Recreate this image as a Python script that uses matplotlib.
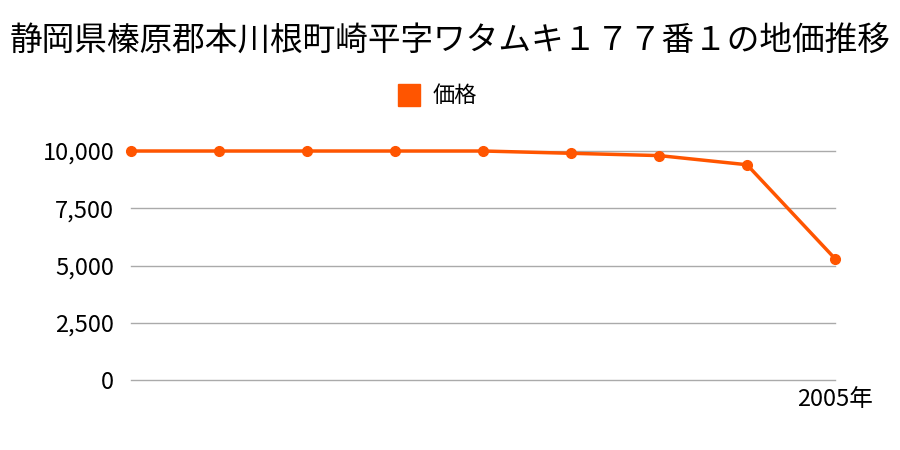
import matplotlib
matplotlib.use("Agg")
import matplotlib.pyplot as plt
from matplotlib.ticker import FuncFormatter

plt.rcParams["font.family"] = ["Noto Sans CJK JP", "DejaVu Sans"]

TITLE = "静岡県榛原郡本川根町崎平字ワタムキ１７７番１の地価推移"
SERIES_NAME = "価格"
years = ["", "", "", "", "", "", "", "", "2005年"]
prices = [10000, 10000, 10000, 10000, 10000, 9900, 9800, 9400, 5300]
yticks = [0, 2500, 5000, 7500, 10000]

LINE_COLOR = "#ff5500"
GRID_COLOR = "#aaaaaa"

fig = plt.figure(figsize=(9, 4.5), dpi=100)
ax = fig.add_axes([131 / 900, 1 - 380 / 450, (835 - 131) / 900, (380 - 151) / 450])

x = list(range(len(prices)))
ax.plot(x, prices, color=LINE_COLOR, lw=2.5, marker="o", ms=7, clip_on=False, zorder=3)

ax.set_xlim(0, len(prices) - 1)
ax.set_ylim(0, 10000)
ax.set_yticks(yticks)
ax.yaxis.set_major_formatter(FuncFormatter(lambda v, _: f"{int(v):,}"))
ax.set_xticks(x)
ax.set_xticklabels(years)
ax.grid(axis="y", color=GRID_COLOR, lw=1)
for gl in ax.get_ygridlines():
    gl.set_clip_on(False)
ax.set_axisbelow(True)
for s in ax.spines.values():
    s.set_visible(False)
ax.tick_params(axis="both", length=0, labelsize=17)
ax.tick_params(axis="y", pad=12)
ax.tick_params(axis="x", pad=6)

fig.text(0.5, 1 - 42 / 450, TITLE, ha="center", va="center", fontsize=23.5)
fig.patches.append(plt.Rectangle((398 / 900, 1 - 106 / 450), 22 / 900, 22 / 450,
                                 transform=fig.transFigure, color=LINE_COLOR))
fig.text(433 / 900, 1 - 95 / 450, SERIES_NAME, ha="left", va="center", fontsize=16)

fig.savefig("out.png", dpi=100)
